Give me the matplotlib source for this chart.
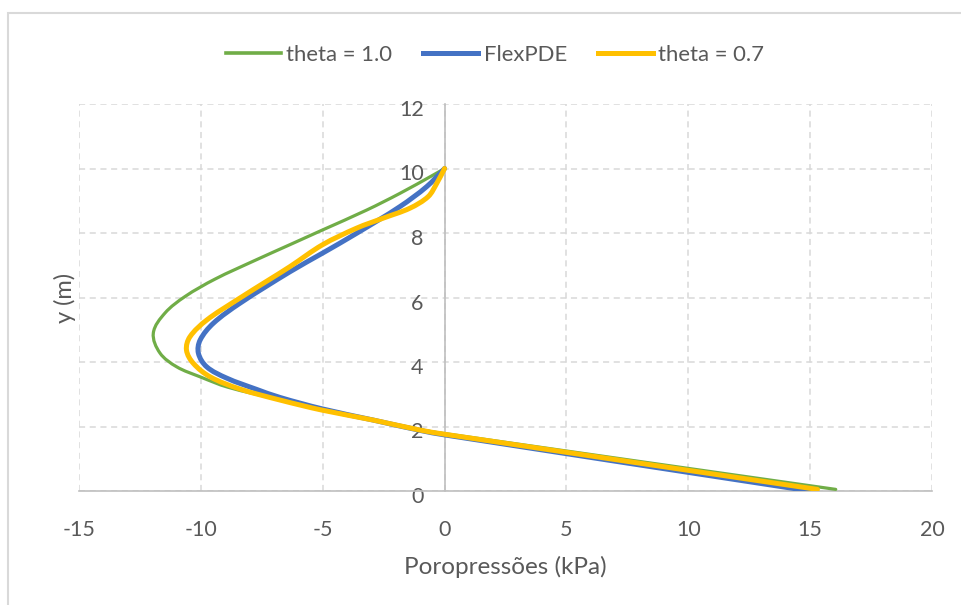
import matplotlib.pyplot as plt
import matplotlib.transforms as mtransforms
import numpy as np
from matplotlib.path import Path
from matplotlib.patches import PathPatch, Rectangle
from matplotlib.lines import Line2D

plt.rcParams['font.family'] = ['Lato', 'DejaVu Sans']
plt.rcParams['axes.unicode_minus'] = False

# series (x = pore pressure kPa, y = depth m)
theta1_x = [0, -0.46, -1.83, -3.2, -5.02, -6.34, -7.78, -9.42, -10.65, -11.47, -11.95,
            -11.68, -10.99, -10.03, -8.9, -6.75, -5.04, -2.93, -1.01, 0, 16.05]
theta1_y = [10, 9.8, 9.23, 8.71, 8.09, 7.64, 7.15, 6.57, 6.03, 5.52, 4.9,
            4.28, 3.85, 3.54, 3.22, 2.83, 2.52, 2.21, 1.9, 1.78, 0.05]

flex_x = [0, -0.73, -1.83, -3.61, -5.02, -6.34, -8.4, -9.49, -10.03,
          -10.1, -9.76, -8.94, -7.71, -6.75, -5.04, -2.93, -1.01, 0, 15.0]
flex_y = [10, 9.44, 8.82, 7.99, 7.37, 6.8, 5.82, 5.2, 4.68,
          4.27, 3.85, 3.5, 3.15, 2.9, 2.55, 2.2, 1.88, 1.74, 0.0]

theta07_x = [0, -0.32, -0.67, -1.42, -2.52, -3.61, -5.02, -6.34, -7.16, -8.53,
             -9.76, -10.45, -10.59, -10.31, -9.62, -8.39, -6.75, -5.04, -2.93, -1.01, 0, 15.3]
theta07_y = [10, 9.54, 9.13, 8.77, 8.46, 8.15, 7.63, 6.96, 6.57, 5.92,
             5.3, 4.78, 4.37, 3.96, 3.54, 3.16, 2.82, 2.51, 2.2, 1.89, 1.76, 0.05]

xticks = [-15, -10, -5, 0, 5, 10, 15, 20]
yticks = [0, 2, 4, 6, 8, 10, 12]

GREEN = '#70AD47'
BLUE = '#4472C4'
YELLOW = '#FFC000'
TXT = '#595959'

# approx pixel per data unit, used only so the smoothing treats both axes alike
SX, SY = 853 / 35, 387 / 12


def smooth_path(xs, ys):
    # Excel-like smoothed line: cubic bezier segments through the points,
    # tangent handles scaled by segment length to avoid overshoot
    p = np.column_stack([np.array(xs) * SX, np.array(ys) * SY]).astype(float)
    n = len(p)
    tang = np.zeros_like(p)
    for i in range(n):
        a = p[max(i - 1, 0)]
        b = p[min(i + 1, n - 1)]
        d = b - a
        tang[i] = d / (np.hypot(*d) or 1.0)
    verts = [p[0]]
    codes = [Path.MOVETO]
    for i in range(n - 1):
        L = np.hypot(*(p[i + 1] - p[i]))
        c1 = p[i] + tang[i] * L / 3.0
        c2 = p[i + 1] - tang[i + 1] * L / 3.0
        verts += [c1, c2, p[i + 1]]
        codes += [Path.CURVE4] * 3
    v = np.array(verts)
    v[:, 0] /= SX
    v[:, 1] /= SY
    return Path(v, codes)


fig = plt.figure(figsize=(9.61, 6.05), dpi=100)
ax = fig.add_axes([79 / 961, 1 - 491 / 605, 853 / 961, 387 / 605])

for xs, ys, col, lw in [(theta1_x, theta1_y, GREEN, 2.3),
                        (flex_x, flex_y, BLUE, 3.6),
                        (theta07_x, theta07_y, YELLOW, 3.6)]:
    ax.add_patch(PathPatch(smooth_path(xs, ys), facecolor='none', edgecolor=col,
                           lw=lw, capstyle='round', joinstyle='round', zorder=3))

ax.set_xlim(-15, 20)
ax.set_ylim(0, 12)
ax.set_xticks(xticks)
ax.set_yticks(yticks)
ax.grid(True, color='#d9d9d9', linestyle=(0, (4, 3)), linewidth=1.1)
ax.set_axisbelow(True)

for s in ['top', 'right']:
    ax.spines[s].set_visible(False)
ax.spines['left'].set_position(('data', 0))
ax.spines['left'].set_color('#bfbfbf')
ax.spines['bottom'].set_color('#bfbfbf')
ax.spines['left'].set_linewidth(1.2)
ax.spines['bottom'].set_linewidth(1.2)
ax.tick_params(axis='both', length=0, labelsize=15.5, labelcolor=TXT)
ax.tick_params(axis='x', pad=21)
ax.tick_params(axis='y', pad=15)

# Excel puts the y labels a little below their gridline
shift = mtransforms.ScaledTranslation(0, -4 / 100, fig.dpi_scale_trans)
for lab in ax.get_yticklabels():
    lab.set_transform(lab.get_transform() + shift)

fig.text(65 / 961, 1 - 298 / 605, 'y (m)', rotation=90, ha='center', va='center',
         fontsize=17, color=TXT)
fig.text(505 / 961, 1 - 567 / 605, 'Poropressões (kPa)', ha='center', va='center',
         fontsize=17.5, color=TXT)

handles = [Line2D([], [], color=GREEN, lw=2.6),
           Line2D([], [], color=BLUE, lw=3.6),
           Line2D([], [], color=YELLOW, lw=3.6)]
leg = fig.legend(handles, ['theta = 1.0', 'FlexPDE', 'theta = 0.7'], loc='center',
                 bbox_to_anchor=(495 / 961, 1 - 55 / 605), ncol=3, frameon=False,
                 fontsize=15.9, handlelength=2.5, handletextpad=0.23, columnspacing=1.4)
for t in leg.get_texts():
    t.set_color(TXT)

# chart area border (Excel style)
fig.patches.append(Rectangle((8 / 961, -0.1), 1.2, 1 - 13 / 605 + 0.1,
                             transform=fig.transFigure, fill=False,
                             edgecolor='#d9d9d9', lw=1.5))

fig.savefig('out.png', dpi=100)
